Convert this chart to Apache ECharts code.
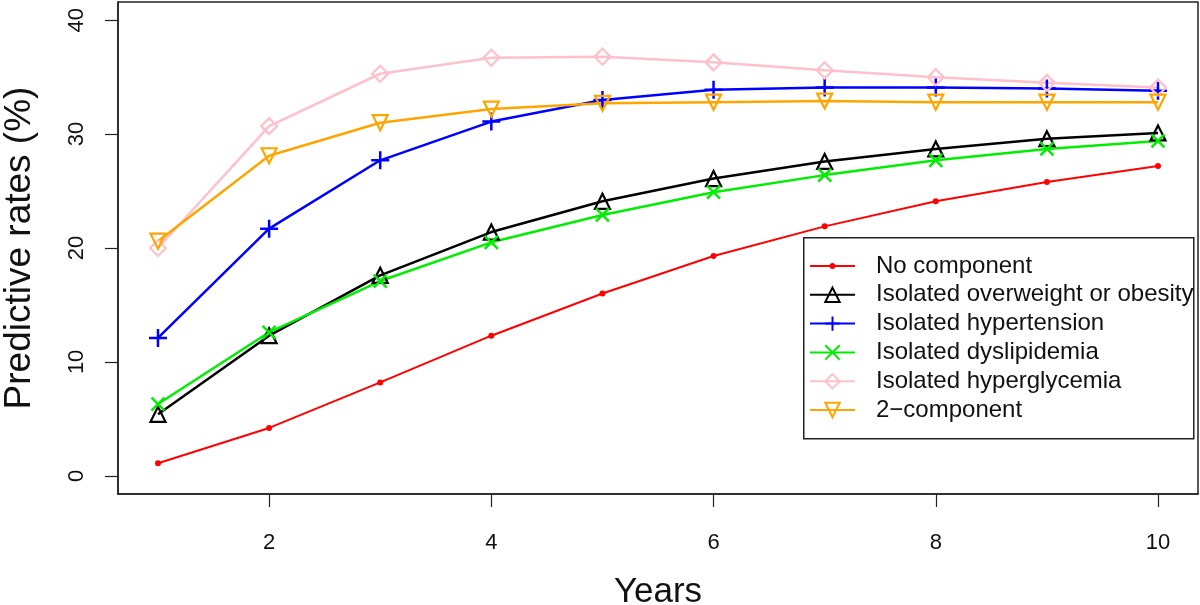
<!DOCTYPE html>
<html>
<head>
<meta charset="utf-8">
<script src="https://cdn.jsdelivr.net/npm/echarts@6/dist/echarts.min.js"></script>
<style>
html,body{margin:0;padding:0;background:#fff;}
#chart{width:1200px;height:605px;}
</style>
</head>
<body>
<div id="chart"></div>
<script>
// ---- data ----
var years = [1, 2, 3, 4, 5, 6, 7, 8, 9, 10];
var seriesNames = ["No component", "Isolated overweight or obesity", "Isolated hypertension", "Isolated dyslipidemia", "Isolated hyperglycemia", "2\u2212component"];
var noComponent   = [1.1, 4.2, 8.2, 12.3, 16.0, 19.3, 21.9, 24.1, 25.8, 27.2];
var overweight    = [5.4, 12.3, 17.6, 21.4, 24.1, 26.1, 27.6, 28.7, 29.6, 30.1];
var hypertension  = [12.1, 21.7, 27.7, 31.1, 33.0, 33.9, 34.1, 34.1, 34.0, 33.8];
var dyslipidemia  = [6.3, 12.6, 17.1, 20.5, 22.9, 24.9, 26.4, 27.7, 28.7, 29.4];
var hyperglycemia = [20.0, 30.7, 35.3, 36.7, 36.8, 36.3, 35.6, 35.0, 34.5, 34.1];
var twoComponent  = [20.6, 28.1, 31.0, 32.2, 32.7, 32.8, 32.9, 32.8, 32.8, 32.8];
var xTickLabels = [2, 4, 6, 8, 10];
var yTickLabels = [0, 10, 20, 30, 40];
var xTitle = "Years";
var yTitle = "Predictive rates (%)";

// ---- chart ----
var FONT = "Liberation Sans, Arial, sans-serif";
function pairs(vals) { return years.map(function (y, i) { return [y, vals[i]]; }); }
var DOT = "path://M0,0M20,20M6,10A4,4,0,1,1,14,10A4,4,0,1,1,6,10Z";
var styles = [
  { data: noComponent,   color: "#FF0000", symbol: DOT, size: 15, fill: "#FF0000", lw: 2, bw: 0 },
  { data: overweight,    color: "#000000", symbol: "triangle", size: 15, fill: "rgba(255,255,255,0)", lw: 2.5, bw: 2.2 },
  { data: hypertension,  color: "#0000FF", symbol: "path://M0,8L16,8M8,0L8,16", size: 18, fill: "rgba(255,255,255,0)", lw: 2.5, bw: 2.5 },
  { data: dyslipidemia,  color: "#00EE00", symbol: "path://M0,0L16,16M16,0L0,16", size: 13, fill: "rgba(255,255,255,0)", lw: 2.5, bw: 2.5 },
  { data: hyperglycemia, color: "#FFC0CB", symbol: "diamond", size: 16, fill: "rgba(255,255,255,0)", lw: 2.5, bw: 2.2 },
  { data: twoComponent,  color: "#FFA500", symbol: "triangle", size: 15, fill: "rgba(255,255,255,0)", lw: 2.5, bw: 2.2, rot: 180 }
];
var series = styles.map(function (s, i) {
  return {
    name: seriesNames[i],
    type: "line",
    data: pairs(s.data),
    symbol: s.symbol,
    symbolSize: s.size,
    symbolRotate: s.rot || 0,
    showAllSymbol: true,
    animation: false,
    silent: true,
    lineStyle: { color: s.color, width: s.lw },
    itemStyle: { color: s.fill, borderColor: s.color, borderWidth: s.bw },
    emphasis: { disabled: true }
  };
});

var chart = echarts.init(document.getElementById("chart"), null, { renderer: "canvas" });
chart.setOption({
  backgroundColor: "#fff",
  animation: false,
  grid: { left: 118, right: 2, top: 2, bottom: 111, containLabel: false, outerBoundsMode: "none", show: true, borderColor: "#222", borderWidth: 1.5, backgroundColor: "transparent" },
  xAxis: {
    type: "value", min: 0.64, max: 10.36,
    name: xTitle, nameLocation: "middle", nameGap: 81,
    nameTextStyle: { fontFamily: FONT, fontSize: 35, color: "#111" },
    axisLine: { show: true, onZero: false, lineStyle: { color: "#222", width: 1.5 } },
    axisTick: { show: true, inside: false, length: 13, customValues: xTickLabels, lineStyle: { color: "#222", width: 1.2 } },
    axisLabel: { show: true, margin: 38, customValues: xTickLabels, fontFamily: FONT, fontSize: 22, color: "#111" },
    splitLine: { show: false }
  },
  yAxis: {
    type: "value", min: -1.6, max: 41.6,
    name: yTitle, nameLocation: "middle", nameGap: 80, nameRotate: 90,
    nameTextStyle: { fontFamily: FONT, fontSize: 37, color: "#111" },
    axisLine: { show: true, onZero: false, lineStyle: { color: "#222", width: 1.5 } },
    axisTick: { show: true, inside: false, length: 13, customValues: yTickLabels, lineStyle: { color: "#222", width: 1.2 } },
    axisLabel: { show: true, margin: 30, rotate: 90, customValues: yTickLabels, fontFamily: FONT, fontSize: 22, color: "#111" },
    splitLine: { show: false }
  },
  legend: {
    show: true, orient: "vertical", left: 809, top: 254,
    padding: 0, itemGap: 4.8, itemWidth: 45, itemHeight: 18,
    selectedMode: false,
    textStyle: { fontFamily: FONT, fontSize: 24, color: "#111", lineHeight: 24, padding: [0, 0, 0, 16] },
    data: seriesNames
  },
  graphic: [{
    type: "rect", left: 803, top: 237, silent: true,
    shape: { width: 390, height: 201 },
    style: { fill: "transparent", stroke: "#222", lineWidth: 1.5 }
  }],
  series: series
});
</script>
</body>
</html>
